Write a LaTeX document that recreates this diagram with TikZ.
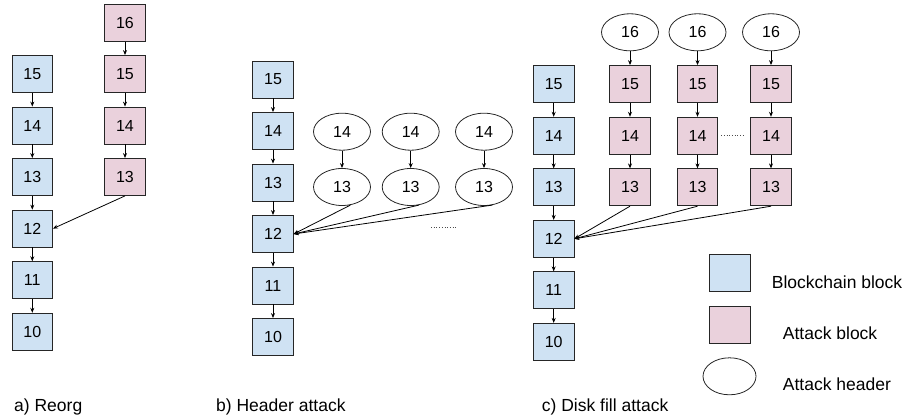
\documentclass[tikz,border=0pt]{standalone}
\usepackage{fontspec}
\setmainfont{Liberation Sans}
\usetikzlibrary{shapes.geometric,arrows.meta}
\definecolor{chainblue}{HTML}{CFE2F3}
\definecolor{attackpink}{HTML}{EAD1DC}
\begin{document}
\begin{tikzpicture}[x=1pt,y=-1pt,
  blk/.style={draw=black!85,line width=0.8pt,minimum width=40.5pt,minimum height=37pt,inner sep=0pt,font=\fontsize{16}{18}\selectfont},
  bblk/.style={blk,fill=chainblue},
  pblk/.style={blk,fill=attackpink},
  hdr/.style={draw=black!85,line width=0.8pt,ellipse,minimum width=57pt,minimum height=37pt,inner sep=0pt,font=\fontsize{16}{18}\selectfont},
  arr/.style={draw=black,line width=0.8pt,-{Stealth[length=5pt,width=4pt]}},
  lbl/.style={anchor=base west,inner sep=0pt,font=\fontsize{17.5}{20}\selectfont},
  dots/.style={draw=black!70,line width=0.7pt,dotted}]
\useasboundingbox (0,0) rectangle (907,419);

% ---------- a) Reorg ----------
\foreach \n/\y in {15/74,14/125.5,13/177,12/228.6,11/280.2,10/331.7}
  \node[bblk] (a\n) at (32.3,\y) {\n};
\foreach \n/\y in {16/22.7,15/74,14/125.5,13/177}
  \node[pblk] (ap\n) at (125,\y) {\n};
\foreach \u/\d in {15/14,14/13,13/12,12/11,11/10}
  \draw[arr] (a\u.south) -- (a\d.north);
\foreach \u/\d in {16/15,15/14,14/13}
  \draw[arr] (ap\u.south) -- (ap\d.north);
\draw[arr] (ap13.south) -- (a12.east);
\node[lbl] (la) at (14,411.5) {a) Reorg};

% ---------- b) Header attack ----------
\foreach \n/\y in {15/79.5,14/131,13/182.5,12/234,11/285.5,10/337}
  \node[bblk] (b\n) at (273,\y) {\n};
\foreach \n/\y in {15/14,14/13,13/12,12/11,11/10}
  \draw[arr] (b\n.south) -- (b\y.north);
\foreach \i/\x in {1/342,2/410.7,3/484}{
  \node[hdr] (bh\i a) at (\x,131.7) {14};
  \node[hdr] (bh\i b) at (\x,187) {13};
  \draw[arr] (bh\i a.south) -- (bh\i b.north);
  \draw[arr] (bh\i b.-65) -- (b12.east);
}
\coordinate (bd1) at (431,227.7);
\coordinate (bd2) at (456,227.7);
\draw[dots] (bd1) -- (bd2);
\node[lbl] (lb) at (216,411.5) {b) Header attack};

% ---------- c) Disk fill attack ----------
\foreach \n/\y in {15/84,14/135.7,13/187.3,12/238.8,11/290.3,10/341.8}
  \node[bblk] (c\n) at (553.7,\y) {\n};
\foreach \n/\y in {15/14,14/13,13/12,12/11,11/10}
  \draw[arr] (c\n.south) -- (c\y.north);
\foreach \i/\x in {1/630,2/697.5,3/771}{
  \node[hdr] (ch\i) at (\x,32.3) {16};
  \node[pblk] (cp\i a) at (\x,84) {15};
  \node[pblk] (cp\i b) at (\x,135.7) {14};
  \node[pblk] (cp\i c) at (\x,187.3) {13};
  \draw[arr] (ch\i.south) -- (cp\i a.north);
  \draw[arr] (cp\i a.south) -- (cp\i b.north);
  \draw[arr] (cp\i b.south) -- (cp\i c.north);
  \draw[arr] (cp\i c.south) -- (c12.east);
}
\draw[dots] ([xshift=3pt]cp2b.east) -- ([xshift=-7pt]cp3b.west);
\node[lbl] (lc) at (541.7,411.5) {c) Disk fill attack};

% ---------- legend ----------
\node[bblk] (k1) at (729.7,272.8) {};
\node[pblk] (k2) at (729.7,324.5) {};
\node[hdr,minimum width=53pt] (k3) at (729.5,376.3) {};
\node[lbl] (t1) at (771.7,288.3) {Blockchain block};
\node[lbl] (t2) at (782.7,340) {Attack block};
\node[lbl] (t3) at (782.7,390.7) {Attack header};
\end{tikzpicture}
\end{document}
